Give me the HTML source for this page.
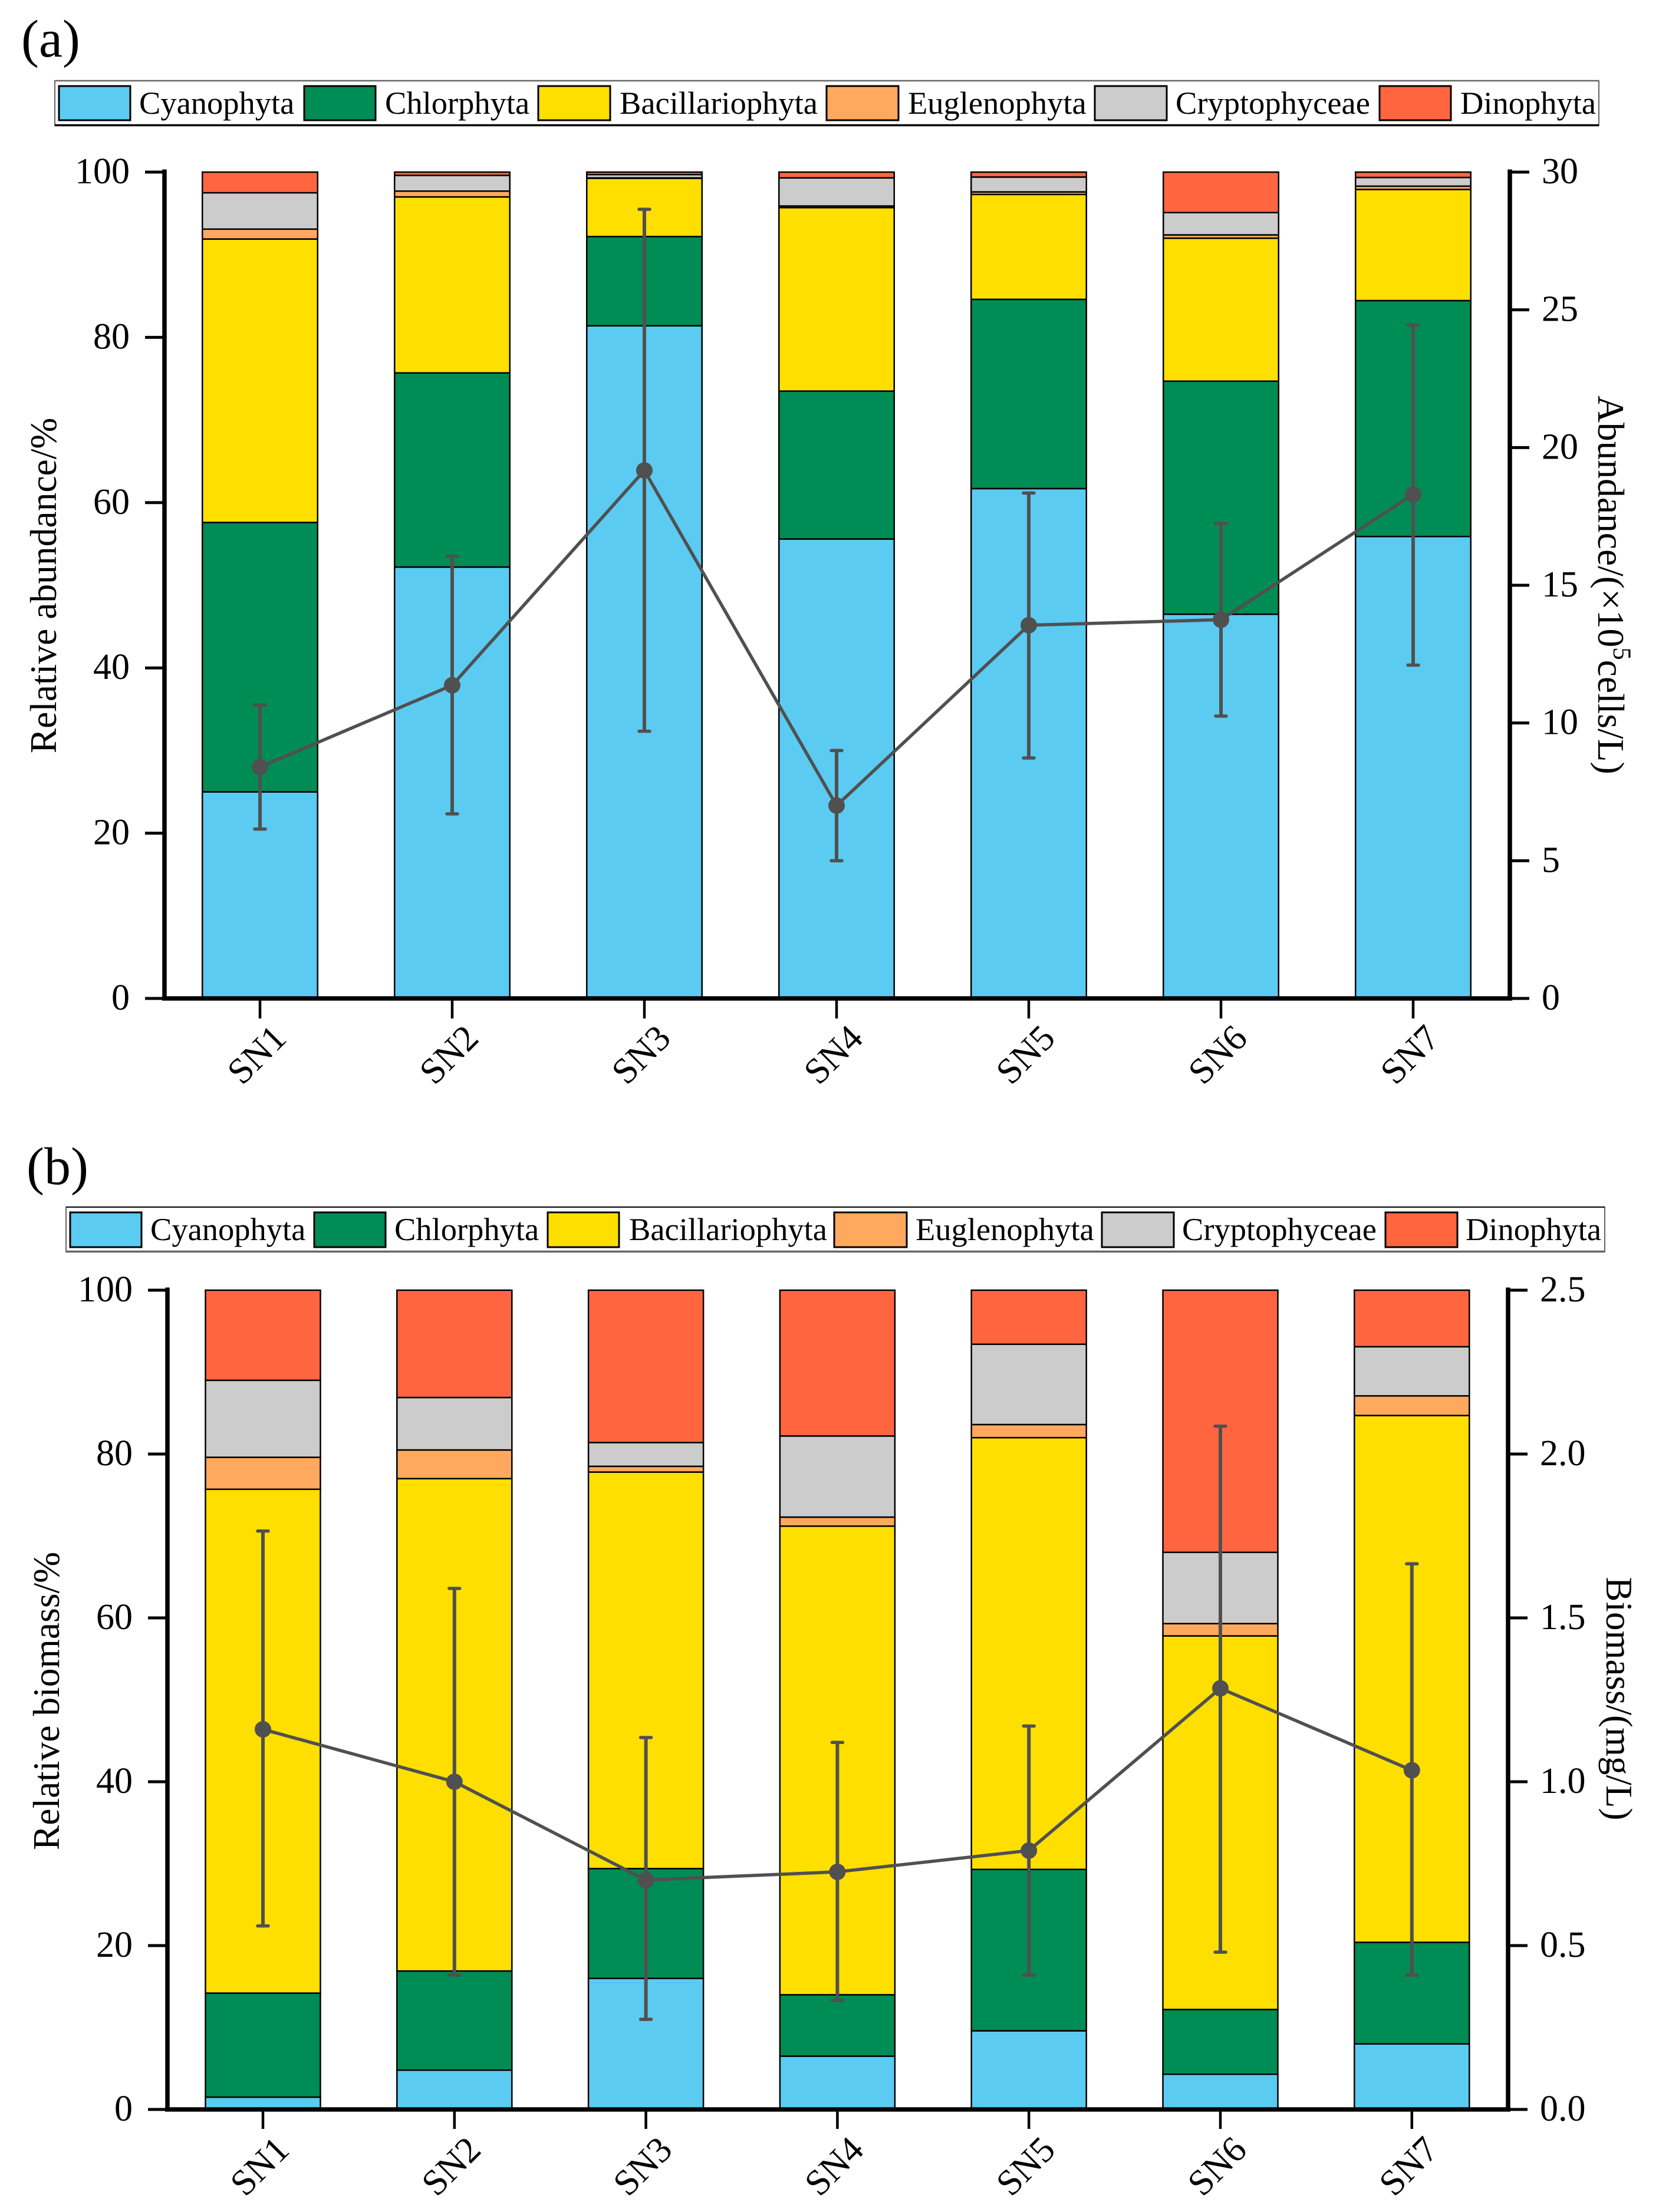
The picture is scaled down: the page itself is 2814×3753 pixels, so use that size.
<!DOCTYPE html>
<html lang="en">
<head>
<meta charset="utf-8">
<title>Phytoplankton relative abundance and biomass at sites SN1–SN7</title>
<style>
html,body{margin:0;padding:0;background:#fff;}
svg{display:block;font-family:"Liberation Serif",serif;fill:#000;}
</style>
</head>
<body>
<svg id="figure" xmlns="http://www.w3.org/2000/svg" width="2814" height="3753" viewBox="0 0 2814 3753">
  <rect x="0" y="0" width="2814" height="3753" fill="#fff"/>

  <text x="36" y="96" font-size="90">(a)</text>
  <g>
    <rect x="93" y="137" width="2619" height="76" fill="#fff" stroke="#333" stroke-width="1.5"/>
    <line x1="93" y1="137" x2="2712" y2="137" stroke="#666" stroke-width="2.5"/>
    <line x1="93" y1="212.5" x2="2712" y2="212.5" stroke="#000" stroke-width="3.5"/>
    <rect x="100" y="146" width="121" height="58" fill="#5BCBF2" stroke="#000" stroke-width="3"/>
    <text x="236" y="193" font-size="54.5">Cyanophyta</text>
    <rect x="516" y="146" width="121" height="58" fill="#008C55" stroke="#000" stroke-width="3"/>
    <text x="653" y="193" font-size="54.5">Chlorphyta</text>
    <rect x="913" y="146" width="122" height="58" fill="#FFDF00" stroke="#000" stroke-width="3"/>
    <text x="1051" y="193" font-size="54.5">Bacillariophyta</text>
    <rect x="1402" y="146" width="122" height="58" fill="#FFA95F" stroke="#000" stroke-width="3"/>
    <text x="1540" y="193" font-size="54.5">Euglenophyta</text>
    <rect x="1857" y="146" width="122" height="58" fill="#CCCCCC" stroke="#000" stroke-width="3"/>
    <text x="1994" y="193" font-size="54.5">Cryptophyceae</text>
    <rect x="2340" y="146" width="121" height="58" fill="#FF6640" stroke="#000" stroke-width="3"/>
    <text x="2477" y="193" font-size="54.5">Dinophyta</text>
  </g>
  <g id="panel-a"></g>
  <text transform="translate(95,993.5) rotate(-90)" text-anchor="middle" font-size="63.5">Relative abundance/%</text>
  <text transform="translate(2711,671) rotate(90)" font-size="63.5">Abundance/(×10<tspan dy="-26" font-size="43">5</tspan><tspan dy="26">cells/L)</tspan></text>

  <text x="45" y="2009" font-size="90">(b)</text>
  <g>
    <rect x="112" y="2048" width="2610" height="76" fill="#fff" stroke="#333" stroke-width="1.5"/>
    <line x1="112" y1="2048" x2="2722" y2="2048" stroke="#000" stroke-width="2"/>
    <line x1="112" y1="2123.5" x2="2722" y2="2123.5" stroke="#666" stroke-width="3.5"/>
    <rect x="119" y="2057" width="121" height="59" fill="#5BCBF2" stroke="#000" stroke-width="3"/>
    <text x="255" y="2104" font-size="54.5">Cyanophyta</text>
    <rect x="533" y="2057" width="121" height="59" fill="#008C55" stroke="#000" stroke-width="3"/>
    <text x="669" y="2104" font-size="54.5">Chlorphyta</text>
    <rect x="929" y="2057" width="121" height="59" fill="#FFDF00" stroke="#000" stroke-width="3"/>
    <text x="1067" y="2104" font-size="54.5">Bacillariophyta</text>
    <rect x="1415" y="2057" width="123" height="59" fill="#FFA95F" stroke="#000" stroke-width="3"/>
    <text x="1553" y="2104" font-size="54.5">Euglenophyta</text>
    <rect x="1869" y="2057" width="122" height="59" fill="#CCCCCC" stroke="#000" stroke-width="3"/>
    <text x="2005" y="2104" font-size="54.5">Cryptophyceae</text>
    <rect x="2350" y="2057" width="122" height="59" fill="#FF6640" stroke="#000" stroke-width="3"/>
    <text x="2486" y="2104" font-size="54.5">Dinophyta</text>
  </g>
  <g id="panel-b"></g>
  <text transform="translate(100,2886) rotate(-90)" text-anchor="middle" font-size="63.5">Relative biomass/%</text>
  <text transform="translate(2725,2882) rotate(90)" text-anchor="middle" font-size="63">Biomass/(mg/L)</text>
</svg>

<script>
// ---- shared data ----
const categories = ['SN1', 'SN2', 'SN3', 'SN4', 'SN5', 'SN6', 'SN7'];
const seriesNames = ['cyanophyta', 'chlorphyta', 'bacillariophyta', 'euglenophyta', 'cryptophyceae', 'dinophyta'];
const seriesColors = ['#5BCBF2', '#008C55', '#FFDF00', '#FFA95F', '#CCCCCC', '#FF6640'];
const leftTicks = [0, 20, 40, 60, 80, 100];

// ---- panel (a): relative abundance, % ----
const abundanceCyanophyta = [25.0, 52.2, 81.4, 55.6, 61.7, 46.5, 55.9];
const abundanceChlorphyta = [32.6, 23.5, 10.8, 17.9, 22.9, 28.2, 28.55];
const abundanceBacillariophyta = [34.3, 21.3, 7.05, 22.2, 12.7, 17.3, 13.45];
const abundanceEuglenophyta = [1.2, 0.7, 0.05, 0.2, 0.3, 0.4, 0.4];
const abundanceCryptophyceae = [4.4, 1.9, 0.4, 3.4, 1.8, 2.7, 1.05];
const abundanceDinophyta = [2.5, 0.4, 0.3, 0.7, 0.6, 4.9, 0.65];
// total abundance, x10^5 cells/L
const abundanceMean = [8.4, 11.37, 19.17, 7.0, 13.55, 13.75, 18.3];
const abundanceHigh = [10.65, 16.05, 28.65, 9.0, 18.35, 17.25, 24.45];
const abundanceLow = [6.15, 6.7, 9.7, 5.0, 8.73, 10.25, 12.1];
const abundanceTicks = [0, 5, 10, 15, 20, 25, 30];
const abundanceTickLabels = ['0', '5', '10', '15', '20', '25', '30'];

// ---- panel (b): relative biomass, % ----
const biomassCyanophyta = [1.5, 4.8, 16.0, 6.5, 9.6, 4.3, 8.0];
const biomassChlorphyta = [12.7, 12.1, 13.4, 7.5, 19.7, 7.9, 12.4];
const biomassBacillariophyta = [61.5, 60.1, 48.4, 57.2, 52.7, 45.6, 64.3];
const biomassEuglenophyta = [3.9, 3.5, 0.7, 1.1, 1.6, 1.5, 2.4];
const biomassCryptophyceae = [9.4, 6.4, 2.9, 9.9, 9.8, 8.7, 6.0];
const biomassDinophyta = [11.0, 13.1, 18.6, 17.8, 6.6, 32.0, 6.9];
// total biomass, mg/L
const biomassMean = [1.16, 1.0, 0.70, 0.725, 0.79, 1.285, 1.035];
const biomassHigh = [1.765, 1.59, 1.135, 1.12, 1.17, 2.085, 1.665];
const biomassLow = [0.56, 0.41, 0.275, 0.333, 0.41, 0.48, 0.41];
const biomassTicks = [0, 0.5, 1.0, 1.5, 2.0, 2.5];
const biomassTickLabels = ['0.0', '0.5', '1.0', '1.5', '2.0', '2.5'];

const SVG_NS = 'http://www.w3.org/2000/svg';
function make(tag, attrs, parent) {
  const node = document.createElementNS(SVG_NS, tag);
  for (const key in attrs) node.setAttribute(key, attrs[key]);
  parent.appendChild(node);
  return node;
}

function drawPanel(rootId, layout, stacks, mean, high, low, rightTicks, rightLabels, rightMax) {
  const root = document.getElementById(rootId);
  const xAt = i => layout.cat0 + i * layout.step;
  const yLeft = v => layout.y0 - (v / 100) * (layout.y0 - layout.y100);
  const yRight = v => layout.y0 - (v / rightMax) * (layout.y0 - layout.y100);

  // stacked bars
  categories.forEach((cat, i) => {
    let running = 0;
    stacks.forEach((values, s) => {
      const top = yLeft(running + values[i]);
      const bottom = yLeft(running);
      const seg = make('rect', {
        x: xAt(i) - layout.barWidth / 2, y: top,
        width: layout.barWidth, height: Math.max(bottom - top, 0),
        fill: seriesColors[s], stroke: '#000', 'stroke-width': 2.5
      }, root);
      
      
      running += values[i];
    });
  });

  // x axis
  const xAxis = make('line', {
    x1: layout.xLeft - 4, x2: layout.xRight + 4, y1: layout.y0, y2: layout.y0,
    stroke: '#000', 'stroke-width': 7.5
  }, root);
  
  

  categories.forEach((cat, i) => {
    const tick = make('line', {
      x1: xAt(i), x2: xAt(i), y1: layout.y0, y2: layout.y0 + layout.xTickLen,
      stroke: '#000', 'stroke-width': 4.5
    }, root);
    
    
    const label = make('text', {
      transform: 'translate(' + (xAt(i) - 6) + ',' + (layout.y0 + layout.xLabelOffset) + ') rotate(-45)',
      'text-anchor': 'middle', y: 21, 'font-size': 62
    }, root);
    
    
    label.textContent = cat;
  });

  // left axis
  const leftAxis = make('line', {
    x1: layout.xLeft, x2: layout.xLeft, y1: layout.y100 - 4.5, y2: layout.y0,
    stroke: '#000', 'stroke-width': 7.5
  }, root);
  
  

  leftTicks.forEach(v => {
    const tick = make('line', {
      x1: layout.xLeft - 33, x2: layout.xLeft, y1: yLeft(v), y2: yLeft(v),
      stroke: '#000', 'stroke-width': 5
    }, root);
    
    
    const label = make('text', {
      x: layout.leftLabelX, y: yLeft(v) + 19, 'text-anchor': 'end', 'font-size': 62
    }, root);
    
    
    label.textContent = String(v);
  });

  // right axis
  const rightAxis = make('line', {
    x1: layout.xRight, x2: layout.xRight, y1: layout.y100 - 4.5, y2: layout.y0,
    stroke: '#000', 'stroke-width': 7.5
  }, root);
  
  

  rightTicks.forEach((v, t) => {
    const tick = make('line', {
      x1: layout.xRight, x2: layout.xRight + 33, y1: yRight(v), y2: yRight(v),
      stroke: '#000', 'stroke-width': 5
    }, root);
    
    
    const label = make('text', {
      x: layout.rightLabelX, y: yRight(v) + 19, 'font-size': 62
    }, root);
    
    
    label.textContent = rightLabels[t];
  });

  // error bars
  categories.forEach((cat, i) => {
    const stem = make('line', {
      x1: xAt(i), x2: xAt(i), y1: yRight(high[i]), y2: yRight(low[i]),
      stroke: '#505050', 'stroke-width': 6
    }, root);
    
    
    const capTop = make('line', {
      x1: xAt(i) - 9, x2: xAt(i) + 9, y1: yRight(high[i]), y2: yRight(high[i]),
      stroke: '#505050', 'stroke-width': 5.5, 'stroke-linecap': 'round'
    }, root);
    
    
    const capBottom = make('line', {
      x1: xAt(i) - 9, x2: xAt(i) + 9, y1: yRight(low[i]), y2: yRight(low[i]),
      stroke: '#505050', 'stroke-width': 5.5, 'stroke-linecap': 'round'
    }, root);
    
    
  });

  // mean line + points
  const line = make('polyline', {
    points: mean.map((v, i) => xAt(i) + ',' + yRight(v)).join(' '),
    fill: 'none', stroke: '#505050', 'stroke-width': 5.5
  }, root);
  
  

  categories.forEach((cat, i) => {
    const point = make('circle', { cx: xAt(i), cy: yRight(mean[i]), r: 14, fill: '#505050' }, root);
    
    
  });
}

drawPanel('panel-a',
  { cat0: 441, step: 326, barWidth: 195.5, xLeft: 279, xRight: 2561, y0: 1694, y100: 292,
    xTickLen: 34, xLabelOffset: 95, leftLabelX: 220, rightLabelX: 2615 },
  [abundanceCyanophyta, abundanceChlorphyta, abundanceBacillariophyta, abundanceEuglenophyta, abundanceCryptophyceae, abundanceDinophyta],
  abundanceMean, abundanceHigh, abundanceLow, abundanceTicks, abundanceTickLabels, 30);

drawPanel('panel-b',
  { cat0: 446, step: 324.8, barWidth: 195, xLeft: 284, xRight: 2558, y0: 3579, y100: 2189,
    xTickLen: 33, xLabelOffset: 96, leftLabelX: 225, rightLabelX: 2612 },
  [biomassCyanophyta, biomassChlorphyta, biomassBacillariophyta, biomassEuglenophyta, biomassCryptophyceae, biomassDinophyta],
  biomassMean, biomassHigh, biomassLow, biomassTicks, biomassTickLabels, 2.5);
</script>
</body>
</html>
